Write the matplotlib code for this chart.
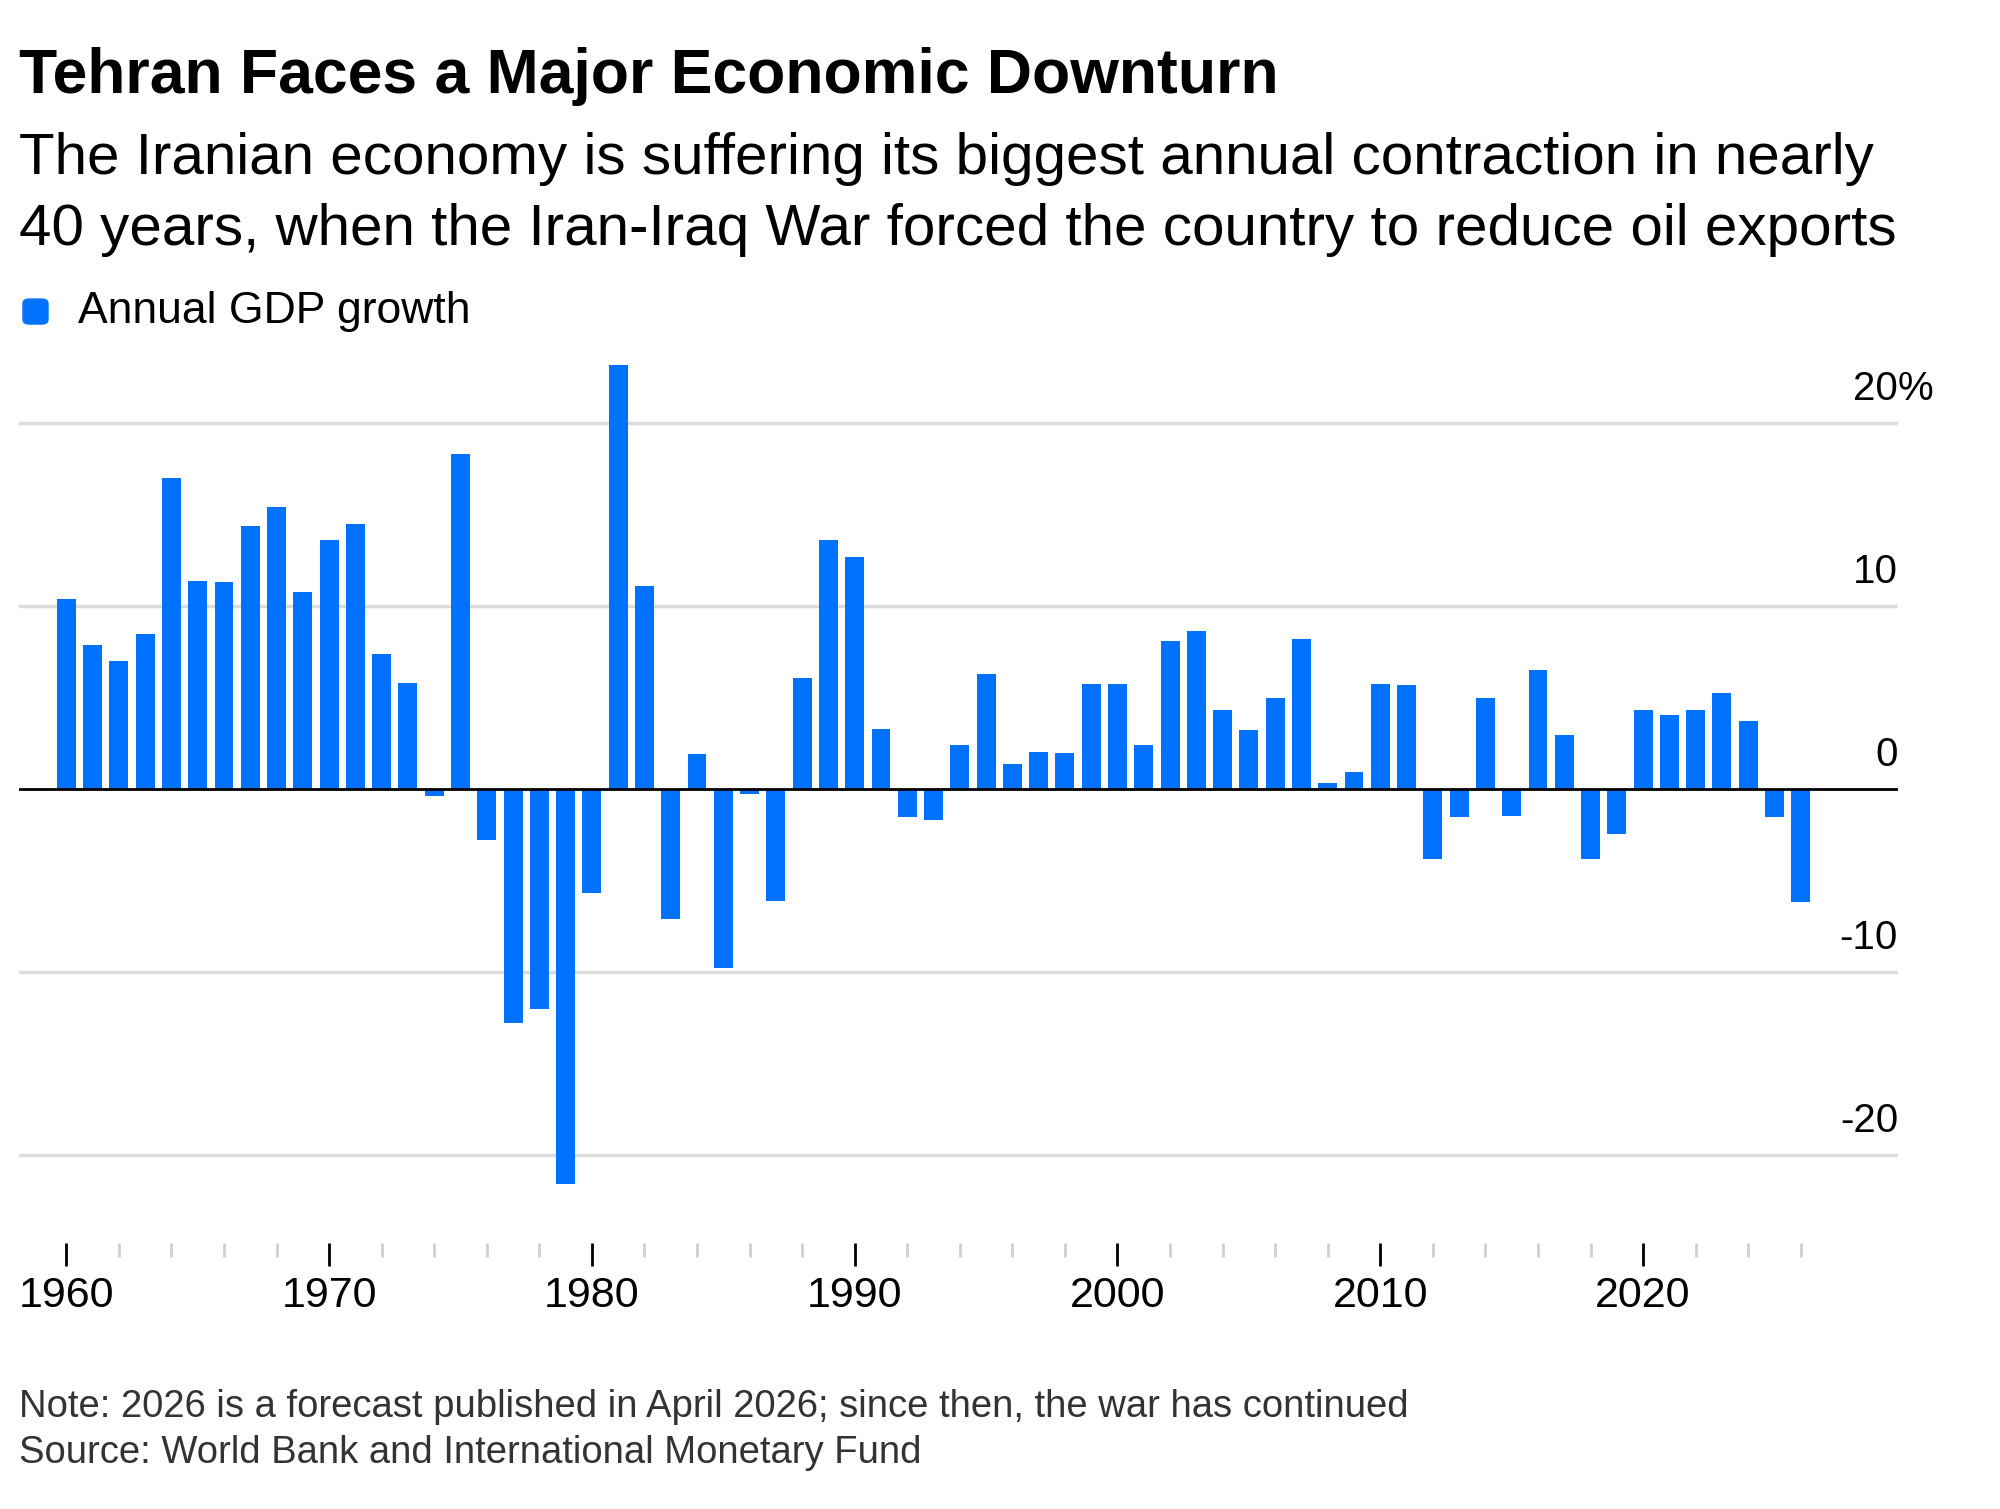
import matplotlib
matplotlib.use("Agg")
import matplotlib.pyplot as plt
from matplotlib.patches import FancyBboxPatch
from matplotlib.ticker import FixedLocator

plt.rcParams['font.family'] = ['Liberation Sans', 'DejaVu Sans']

years = list(range(1960, 2027))
growth = [10.4, 7.9, 7.0, 8.5, 17.0, 11.4, 11.3, 14.4, 15.4, 10.8,
          13.6, 14.5, 7.4, 5.8, -0.35, 18.3, -2.8, -12.8, -12.0, -21.6,
          -5.7, 23.2, 11.1, -7.1, 1.9, -9.8, -0.25, -6.1, 6.1, 13.6,
          12.7, 3.3, -1.5, -1.7, 2.4, 6.3, 1.4, 2.05, 2.0, 5.76,
          5.76, 2.41, 8.08, 8.63, 4.31, 3.24, 4.97, 8.21, 0.31, 0.95,
          5.76, 5.70, -3.8, -1.52, 4.97, -1.48, 6.51, 2.96, -3.8, -2.43,
          4.35, 4.06, 4.35, 5.28, 3.73, -1.52, -6.14]
y_ticks = [20, 10, 0, -10, -20]
y_labels = ["20", "10", "0", "-10", "-20"]
x_ticks = [1960, 1970, 1980, 1990, 2000, 2010, 2020]
minor_x = [y for y in range(1962, 2027, 2) if y % 10 != 0]

title = "Tehran Faces a Major Economic Downturn"
subtitle = ["The Iranian economy is suffering its biggest annual contraction in nearly",
            "40 years, when the Iran-Iraq War forced the country to reduce oil exports"]
legend_label = "Annual GDP growth"
note = "Note: 2026 is a forecast published in April 2026; since then, the war has continued"
source = "Source: World Bank and International Monetary Fund"

blue = "#0072ff"

fig = plt.figure(figsize=(20, 15.09), dpi=100)
ax = fig.add_axes([0.0095, 0.1763, 0.9395, 0.6039])

ax.bar(years, growth, width=0.72, color=blue, zorder=2)

for v in y_ticks:
    if v == 0:
        ax.axhline(v, color="black", lw=2.0, zorder=3)
    else:
        ax.axhline(v, color="#dcdcdc", lw=2.5, zorder=1)

ax.set_xlim(1958.2, 2029.7)
ax.set_ylim(-24.8, 25)

for s in ax.spines.values():
    s.set_visible(False)

ax.set_yticks([])
ax.set_xticks(x_ticks)
ax.set_xticklabels([str(x) for x in x_ticks])
ax.xaxis.set_minor_locator(FixedLocator(minor_x))
ax.tick_params(axis="x", which="major", length=16.5, width=2, color="black",
               labelsize=31, pad=7, direction="out")
ax.tick_params(axis="x", which="minor", length=10, width=2, color="#cfcfcf",
               direction="out")

trans = ax.get_yaxis_transform()
for v, lab in zip(y_ticks, y_labels):
    ax.annotate(lab, xy=(1, v), xycoords=trans, xytext=(0, 16.5),
                textcoords="offset points", ha="right", va="baseline",
                fontsize=29, color="black")
ax.annotate("%", xy=(1, 20), xycoords=trans, xytext=(0, 16.5),
            textcoords="offset points", ha="left", va="baseline",
            fontsize=29, color="black")

fig.text(0.0095, 0.9384, title, fontsize=45, fontweight="bold", va="baseline")
fig.text(0.0095, 0.8847, subtitle[0], fontsize=42, va="baseline")
fig.text(0.0095, 0.8376, subtitle[1], fontsize=42, va="baseline")

fig.patches.append(FancyBboxPatch((0.0115, 0.7853), 0.0125, 0.0165,
                                  boxstyle="round,pad=0,rounding_size=0.003",
                                  transform=fig.transFigure, color=blue))
fig.text(0.039, 0.786, legend_label, fontsize=32, va="baseline")

fig.text(0.0095, 0.0610, note, fontsize=27.5, color="#333333", va="baseline")
fig.text(0.0095, 0.0305, source, fontsize=27.5, color="#333333", va="baseline")

fig.savefig("out.png", dpi=100, facecolor="white")
